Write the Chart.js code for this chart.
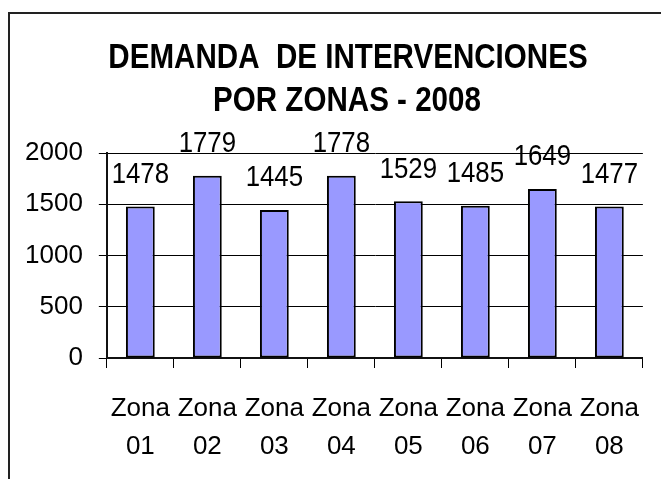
<!DOCTYPE html>
<html>
<head>
<meta charset="utf-8">
<title>Demanda de intervenciones por zonas - 2008</title>
<script src="https://cdn.jsdelivr.net/npm/chart.js@4.4.1/dist/chart.umd.min.js"></script>
<style>
    html, body { margin: 0; padding: 0; background: #ffffff; }
    #zonasChart { display: block; }
</style>
</head>
<body>
<canvas id="zonasChart" width="661" height="479"></canvas>
<script>
// Chart data
const zonas = [['Zona', '01'], ['Zona', '02'], ['Zona', '03'], ['Zona', '04'],
               ['Zona', '05'], ['Zona', '06'], ['Zona', '07'], ['Zona', '08']];
const intervenciones = [1478, 1779, 1445, 1778, 1529, 1485, 1649, 1477];
const yTicks = [0, 500, 1000, 1500, 2000];
const tituloLineas = ['DEMANDA  DE INTERVENCIONES', 'POR ZONAS - 2008'];

const FONT = "'Liberation Sans', Arial, sans-serif";

// Draws text squeezed horizontally (the chart uses a condensed look)
function narrowText(c, text, x, y, squeeze) {
    c.save();
    c.translate(x, y);
    c.scale(squeeze, 1);
    c.fillText(text, 0, 0);
    c.restore();
}

// Frame around the whole chart (runs off the right and bottom edges)
const frameLine = {
    id: 'frameLine',
    beforeDraw(chart) {
        const c = chart.ctx;
        c.save();
        c.fillStyle = '#ffffff';
        c.fillRect(0, 0, chart.width, chart.height);
        c.strokeStyle = '#222222';
        c.lineWidth = 2;
        c.strokeRect(9, 13, 900, 700);
        c.restore();
    }
};

// Two-line bold heading
const heading = {
    id: 'heading',
    afterDraw(chart) {
        const c = chart.ctx;
        c.save();
        c.font = 'bold 35px ' + FONT;
        c.fillStyle = '#000000';
        c.textAlign = 'center';
        c.textBaseline = 'middle';
        narrowText(c, tituloLineas[0], 348, 58, 0.845);
        narrowText(c, tituloLineas[1], 347, 101, 0.845);
        c.restore();
    }
};

// Value written above each bar
const barValues = {
    id: 'barValues',
    afterDatasetsDraw(chart) {
        const c = chart.ctx;
        const meta = chart.getDatasetMeta(0);
        c.save();
        c.font = '30px ' + FONT;
        c.fillStyle = '#000000';
        c.textAlign = 'center';
        c.textBaseline = 'middle';
        meta.data.forEach(function (bar, i) {
            narrowText(c, String(intervenciones[i]), bar.x, bar.y - 32, 0.86);
        });
        c.restore();
    }
};

document.addEventListener('DOMContentLoaded', function () {
    const ctx = document.getElementById('zonasChart').getContext('2d');

    const zonasChart = new Chart(ctx, {
        type: 'bar',
        data: {
            labels: zonas,
            datasets: [{
                label: 'Intervenciones',
                data: intervenciones,
                backgroundColor: '#9999ff',
                borderColor: '#000000',
                borderWidth: 2,
                borderSkipped: false,
                categoryPercentage: 1,
                barPercentage: 0.43
            }]
        },
        options: {
            responsive: false,
            animation: false,
            layout: {
                // room for the heading on top; the plot runs slightly past the right edge
                padding: { left: 9, right: -4, top: 153, bottom: -9 }
            },
            scales: {
                x: {
                    offset: true,
                    grid: {
                        offset: true,
                        drawOnChartArea: false,
                        drawTicks: true,
                        tickLength: 10,
                        color: '#000000',
                        lineWidth: 1
                    },
                    border: { display: true, color: '#111111', width: 2 },
                    ticks: {
                        color: '#000000',
                        padding: 22,
                        maxRotation: 0,
                        autoSkip: false,
                        font: { family: FONT, size: 26, lineHeight: 1.4615 }
                    }
                },
                y: {
                    min: 0,
                    max: 2000,
                    afterBuildTicks: function (axis) {
                        axis.ticks = yTicks.map(v => ({ value: v }));
                    },
                    grid: {
                        color: '#000000',
                        lineWidth: 1,
                        drawTicks: true,
                        tickLength: 8
                    },
                    border: { display: true, color: '#111111', width: 2 },
                    ticks: {
                        color: '#000000',
                        padding: 16,
                        font: { family: FONT, size: 26 },
                        callback: function (value) {
                            return String(value);
                        }
                    }
                }
            },
            plugins: {
                legend: { display: false },
                tooltip: { enabled: false },
                title: { display: false }
            }
        },
        plugins: [frameLine, barValues, heading]
    });
});
</script>
</body>
</html>
